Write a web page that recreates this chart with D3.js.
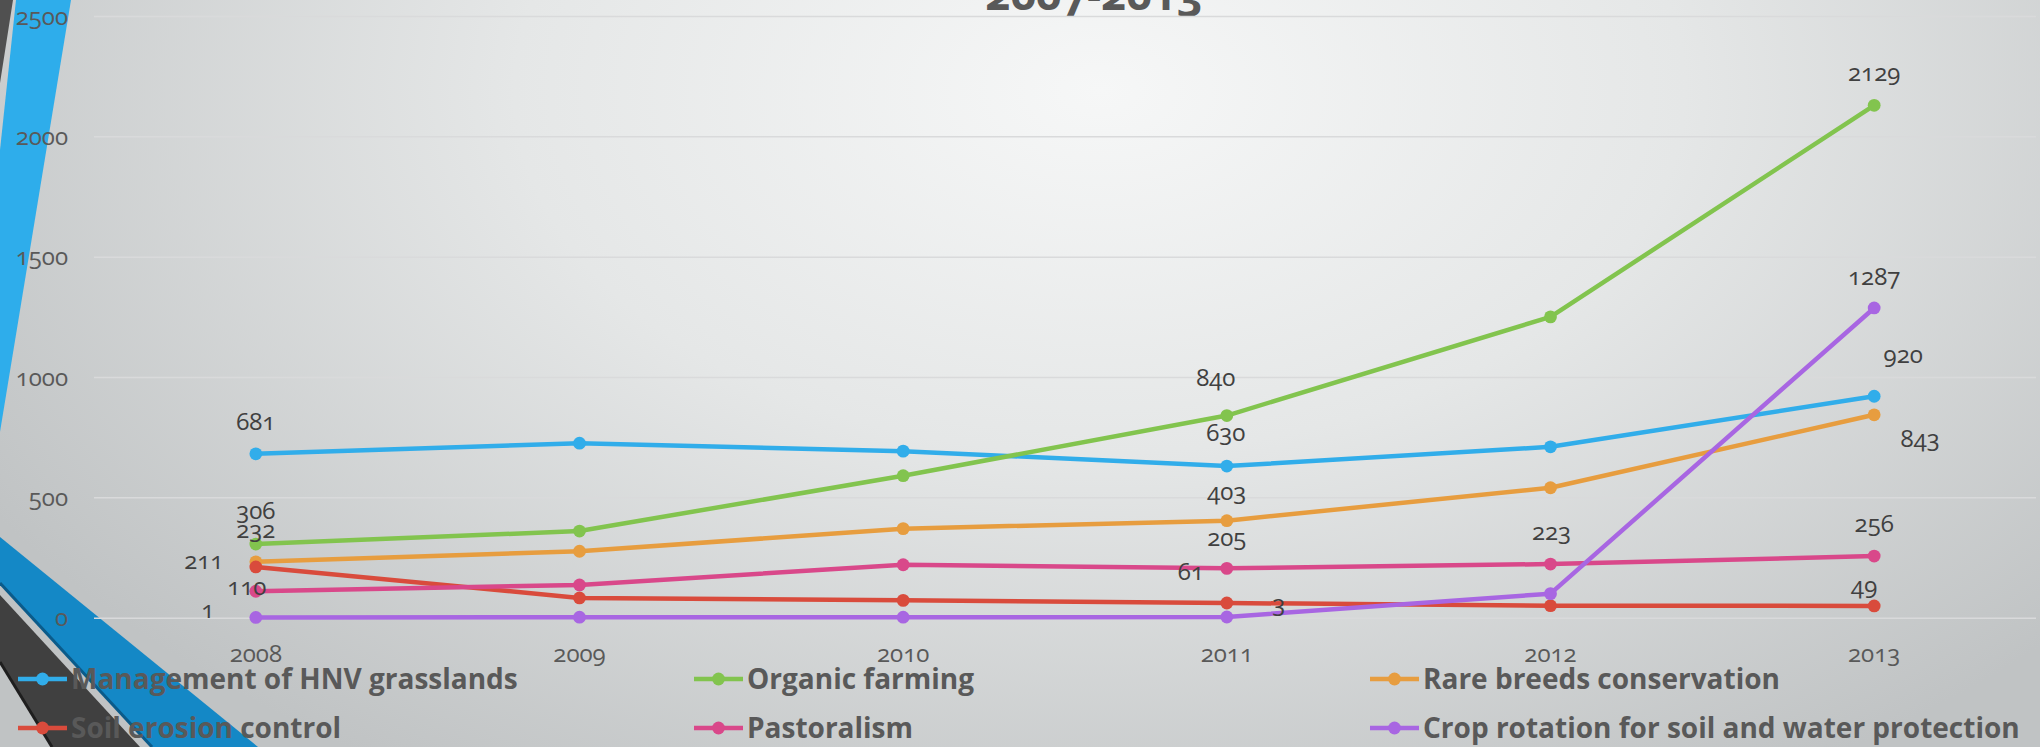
<!DOCTYPE html>
<html>
<head>
<meta charset="utf-8">
<script src="https://cdn.jsdelivr.net/npm/d3@7"></script>
<style>
  html, body { margin: 0; padding: 0; background: #d0d3d4; }
  svg { display: block; font-family: "Open Sans", "Noto Sans", sans-serif; }
  .num { font-variant-numeric: oldstyle-nums; font-feature-settings: "onum" 1; }
</style>
</head>
<body>
<svg id="chart" width="2040" height="747"></svg>
<script>
// ---- data ---------------------------------------------------------------
const years = ["2008", "2009", "2010", "2011", "2012", "2013"];
const seriesNames = [
  "Management of HNV grasslands",
  "Organic farming",
  "Rare breeds conservation",
  "Soil erosion control",
  "Pastoralism",
  "Crop rotation for soil and water protection"
];
const hnvGrasslands = [681, 725, 692, 630, 710, 920];
const organicFarming = [306, 360, 590, 840, 1250, 2129];
const rareBreeds     = [232, 276, 370, 403, 540, 843];
const soilErosion    = [211, 82, 72, 61, 50, 49];
const pastoralism    = [110, 136, 220, 205, 223, 256];
const cropRotation   = [1, 2, 2, 3, 100, 1287];
const yTicks = [0, 500, 1000, 1500, 2000, 2500];
const titleText = "2007-2013";

// which points carry a value label: [series, year]
const labelledPoints = [
  [0, 0], [0, 3], [0, 5],
  [1, 0], [1, 3], [1, 5],
  [2, 0], [2, 3], [2, 5],
  [3, 0], [3, 3], [3, 5],
  [4, 0], [4, 3], [4, 4], [4, 5],
  [5, 0], [5, 3], [5, 5]
];

// ---- styling / layout ---------------------------------------------------
const seriesValues = [hnvGrasslands, organicFarming, rareBreeds, soilErosion, pastoralism, cropRotation];
const seriesColors = ["#31adea", "#82c44e", "#e79d3f", "#d94b3c", "#d9488a", "#a866e2"];

// label offsets (dx, dy to baseline) relative to the point
const labelOffset = {
  "0-0": [0, -24], "0-3": [-1, -25], "0-5": [29, -33],
  "1-0": [0, -25], "1-3": [-11, -30], "1-5": [0, -24],
  "2-0": [0, -24], "2-3": [0, -21], "2-5": [46, 32],
  "3-0": [-52, 2], "3-3": [-36, -23], "3-5": [-10, -12],
  "4-0": [-9, 4], "4-3": [0, -22], "4-4": [1, -24], "4-5": [0, -24],
  "5-0": [-48, 1], "5-3": [52, -5], "5-5": [0, -23]
};

const W = 2040, H = 747;
const plot = { left: 94, right: 2036, top: 16, bottom: 617.7 };

const svg = d3.select("#chart");
const defs = svg.append("defs");

// slide background
const bg = defs.append("radialGradient")
  .attr("id", "bg")
  .attr("gradientUnits", "userSpaceOnUse")
  .attr("cx", 1100).attr("cy", 90).attr("r", 1300)
  .attr("gradientTransform", "translate(1100,90) scale(1,0.62) translate(-1100,-90)");
bg.append("stop").attr("offset", 0).attr("stop-color", "#f6f7f7");
bg.append("stop").attr("offset", 0.45).attr("stop-color", "#e5e7e7");
bg.append("stop").attr("offset", 1).attr("stop-color", "#c0c3c4");
svg.append("rect").attr("width", W).attr("height", H).attr("fill", "url(#bg)");

// theme ribbons on the left edge
const deco = svg.append("g");
deco.append("path").attr("d", "M0,0 L13,0 L0,83 Z").attr("fill", "#505050");
deco.append("path").attr("d", "M16,0 L71,0 L0,432 L0,150 Z").attr("fill", "#2eadeb");
deco.append("path").attr("d", "M0,595 L140,747 L52,747 L0,662 Z").attr("fill", "#404040");
deco.append("path").attr("d", "M0,662 L52,747").attr("stroke", "#1e1e1e").attr("stroke-width", 3);
deco.append("path").attr("d", "M0,537 L258,747 L152,747 L0,583 Z").attr("fill", "#1488c6");
deco.append("path").attr("d", "M0,583 L152,747").attr("stroke", "#0b5b8a").attr("stroke-width", 3);

// ---- scales ---------------------------------------------------------------
const x = d3.scaleBand().domain(years).range([plot.left, plot.right]);
const cx = d => x(d) + x.bandwidth() / 2;
const y = d3.scaleLinear().domain([0, 2500]).range([plot.bottom, plot.top]);

// title (second line of the heading, mostly above the frame)
svg.append("text")
  .attr("class", "num")
  .attr("x", 1094).attr("y", 10)
  .attr("text-anchor", "middle")
  .attr("font-size", 44).attr("font-weight", 700)
  .attr("fill", "#595959")
  .text(titleText);

// y axis with gridlines
const yAxis = svg.append("g")
  .attr("transform", `translate(${plot.left},0)`)
  .call(d3.axisLeft(y).tickValues(yTicks).tickFormat(d3.format("d"))
    .tickSizeInner(-(plot.right - plot.left)).tickSizeOuter(0).tickPadding(26));
yAxis.select(".domain").remove();
yAxis.selectAll(".tick line").attr("stroke", "#d9dadb").attr("stroke-width", 1.5);
yAxis.selectAll(".tick text")
  .attr("class", "num")
  .attr("font-size", 24).attr("fill", "#595959")
  .attr("font-family", "'Open Sans', sans-serif")
  .attr("dy", "0.34em");

// x axis labels
const xAxis = svg.append("g")
  .attr("transform", `translate(0,${plot.bottom})`)
  .call(d3.axisBottom(x).tickSize(0).tickPadding(0));
xAxis.select(".domain").remove();
xAxis.selectAll(".tick text")
  .attr("class", "num")
  .attr("font-size", 24).attr("fill", "#595959")
  .attr("font-family", "'Open Sans', sans-serif")
  .attr("y", 44).attr("dy", 0);

// ---- series ---------------------------------------------------------------
const line = d3.line().x((d, i) => cx(years[i])).y(d => y(d));
const seriesG = svg.append("g");
seriesValues.forEach((vals, s) => {
  const g = seriesG.append("g");
  g.append("path")
    .attr("d", line(vals))
    .attr("fill", "none")
    .attr("stroke", seriesColors[s])
    .attr("stroke-width", 4.5)
    .attr("stroke-linejoin", "round")
    .attr("stroke-linecap", "round");
  g.selectAll("circle").data(vals).join("circle")
    .attr("cx", (d, i) => cx(years[i]))
    .attr("cy", d => y(d))
    .attr("r", 6.4)
    .attr("fill", seriesColors[s]);
});

// value labels
svg.append("g").selectAll("text").data(labelledPoints).join("text")
  .attr("class", "num")
  .attr("x", ([s, i]) => cx(years[i]) + labelOffset[`${s}-${i}`][0])
  .attr("y", ([s, i]) => y(seriesValues[s][i]) + labelOffset[`${s}-${i}`][1])
  .attr("text-anchor", "middle")
  .attr("font-size", 24)
  .attr("fill", "#404040")
  .text(([s, i]) => seriesValues[s][i]);

// ---- legend ---------------------------------------------------------------
const legendCols = [18, 694, 1370];
const legendRows = [679, 728];
const legend = svg.append("g").selectAll("g").data(seriesNames).join("g")
  .attr("transform", (d, i) => `translate(${legendCols[i % 3]},${legendRows[Math.floor(i / 3)]})`);
legend.append("line")
  .attr("x1", 0).attr("x2", 49).attr("y1", 0).attr("y2", 0)
  .attr("stroke", (d, i) => seriesColors[i]).attr("stroke-width", 4.5);
legend.append("circle")
  .attr("cx", 24.5).attr("cy", 0).attr("r", 6.4)
  .attr("fill", (d, i) => seriesColors[i]);
legend.append("text")
  .attr("x", 53).attr("y", 0).attr("dy", "0.35em")
  .attr("font-size", 28).attr("font-weight", 700)
  .attr("fill", "#595959")
  .text(d => d);
</script>
</body>
</html>
